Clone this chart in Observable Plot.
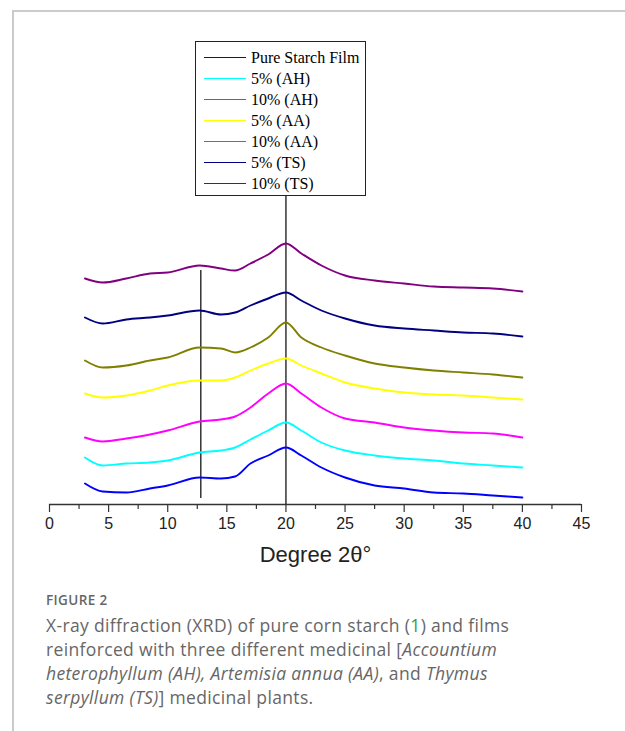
<!DOCTYPE html>
<html>
<head>
<meta charset="utf-8">
<script src="https://cdn.jsdelivr.net/npm/d3@7"></script>
<script src="https://cdn.jsdelivr.net/npm/@observablehq/plot@0.6"></script>
<style>
  html, body { margin: 0; padding: 0; background: #fff; }
  #page { position: relative; width: 625px; height: 731px; overflow: hidden; background: #fff; }
  #borderTop { position: absolute; left: 13px; top: 10px; width: 612px; height: 1.5px; background: #cbcbcb; }
  #borderLeft { position: absolute; left: 12px; top: 10px; width: 1.5px; height: 721px; background: #cbcbcb; }
  #chart { position: absolute; left: 0; top: 0; }
  #legend { position: absolute; left: 195px; top: 41px; width: 171px; height: 155px; border: 1px solid #222; box-sizing: border-box; background: #fff;
            font-family: "Liberation Serif", "Times New Roman", serif; font-size: 16px; color: #000; }
  .lrow { position: absolute; left: 0; height: 21px; line-height: 21px; white-space: nowrap; }
  .lline { position: absolute; left: 8px; top: 10px; width: 42px; height: 1.3px; }
  .ltext { position: absolute; left: 55px; top: 0; }
  #caption { position: absolute; left: 46px; top: 590px; width: 570px; font-family: "Open Sans", "Noto Sans", sans-serif; color: #666; }
  #caption .fig { font-size: 13.5px; font-weight: 600; letter-spacing: 0.4px; line-height: 20px; color: #666; }
  #caption .txt { font-size: 17.5px; letter-spacing: 0.35px; line-height: 24px; margin-top: 3px; }
  #caption .ref { color: #2e9e3e; }
</style>
</head>
<body>
<div id="page">
  <div id="borderTop"></div>
  <div id="borderLeft"></div>
  <div id="chart"></div>
  <div id="legend"></div>
  <div id="caption">
    <div class="fig">FIGURE 2</div>
    <div class="txt">X-ray diffraction (XRD) of pure corn starch (<span class="ref">1</span>) and films<br>reinforced with three different medicinal [<i>Accountium</i><br><i>heterophyllum (AH), Artemisia annua (AA)</i>, and <i>Thymus</i><br><i>serpyllum (TS)</i>] medicinal plants.</div>
  </div>
</div>
<script>
// ---- Data (intensities are stacked, arbitrary units) ----
const seriesNames = ["Pure Starch Film", "5% (AH)", "10% (AH)", "5% (AA)", "10% (AA)", "5% (TS)", "10% (TS)"];
const seriesColors = ["#0000ff", "#00ffff", "#ff00ff", "#ffff00", "#808000", "#000080", "#800080"];

const twoTheta = [3, 4.5, 6.5, 8.5, 10, 12.7, 14.5, 15.7, 17, 18.5, 20, 21.3, 23, 25, 27.5, 30, 32.5, 35, 37.5, 40];

const pureStarch = [21, 13, 12, 16, 19, 27, 26, 28, 41, 49, 57, 49, 37, 27, 19, 16, 12, 11, 9, 7];
const ah5        = [47, 39, 41, 42, 44, 52, 54, 57, 65, 74, 82, 74, 62, 54, 49, 46, 44, 41, 39, 37];
const ah10       = [67, 63, 66, 70, 74, 83, 85, 88, 97, 111, 121, 111, 97, 86, 82, 77, 74, 72, 71, 67];
const aa5        = [111, 107, 109, 114, 119, 124, 124, 127, 134, 141, 146, 139, 131, 122, 116, 112, 110, 109, 107, 105];
const aa10       = [144, 137, 139, 144, 147, 157, 156, 152, 157, 167, 182, 167, 157, 149, 141, 137, 134, 132, 130, 127];
const ts5        = [187, 181, 185, 187, 189, 194, 190, 192, 199, 206, 212, 204, 194, 186, 179, 176, 174, 172, 171, 168];
const ts10       = [226, 222, 226, 231, 232, 239, 236, 234, 241, 250, 261, 251, 239, 229, 224, 221, 218, 217, 216, 213];

const seriesValues = [pureStarch, ah5, ah10, aa5, aa10, ts5, ts10];

// reference (peak) lines: position, from, to
const refX = [12.8, 20];
const refFrom = [6, 0];
const refTo = [234, 308];

const majorTicks = [0, 5, 10, 15, 20, 25, 30, 35, 40, 45];
const minorTicks = [2.5, 7.5, 12.5, 17.5, 22.5, 27.5, 32.5, 37.5, 42.5];
const axisTitle = "Degree 2θ°";

// ---- Build tables ----
const data = [];
seriesNames.forEach((name, i) => {
  twoTheta.forEach((x, j) => data.push({series: name, x, y: seriesValues[i][j]}));
});
const refs = refX.map((x, i) => ({x, y1: refFrom[i], y2: refTo[i]}));

const chart = Plot.plot({
  width: 625,
  height: 580,
  marginLeft: 49,
  marginRight: 44,
  marginTop: 4,
  marginBottom: 76,
  x: {domain: [0, 45], label: null},
  y: {domain: [0, 500], axis: null},
  color: {domain: seriesNames, range: seriesColors},
  style: {background: "transparent", fontFamily: "'Liberation Sans', Arial, sans-serif", color: "#222"},
  marks: [
    Plot.axisX({ticks: minorTicks, tickSize: 5, tickFormat: () => "", label: null, stroke: "#333", strokeWidth: 1.2}),
    Plot.axisX({ticks: majorTicks, tickSize: 8, tickPadding: 5, fontSize: 16, label: null, stroke: "#333", strokeWidth: 1.2}),
    Plot.ruleY([0], {stroke: "#333", strokeWidth: 1.5}),
    Plot.ruleX(refs, {x: "x", y1: "y1", y2: "y2", stroke: "#000", strokeWidth: 1.2}),
    Plot.lineY(data, {x: "x", y: "y", z: "series", stroke: "series", curve: "monotone-x", strokeWidth: 1.9}),
    Plot.text([axisTitle], {frameAnchor: "bottom", dy: 57, fontSize: 22, fill: "#222"})
  ]
});
document.getElementById("chart").appendChild(chart);

// ---- Legend ----
const legend = document.getElementById("legend");
seriesNames.forEach((name, i) => {
  const row = document.createElement("div");
  row.className = "lrow";
  row.style.top = (5 + i * 21) + "px";
  const line = document.createElement("div");
  line.className = "lline";
  line.style.background = seriesColors[i];
  const txt = document.createElement("div");
  txt.className = "ltext";
  txt.textContent = name;
  row.appendChild(line);
  row.appendChild(txt);
  legend.appendChild(row);
});
</script>
</body>
</html>
